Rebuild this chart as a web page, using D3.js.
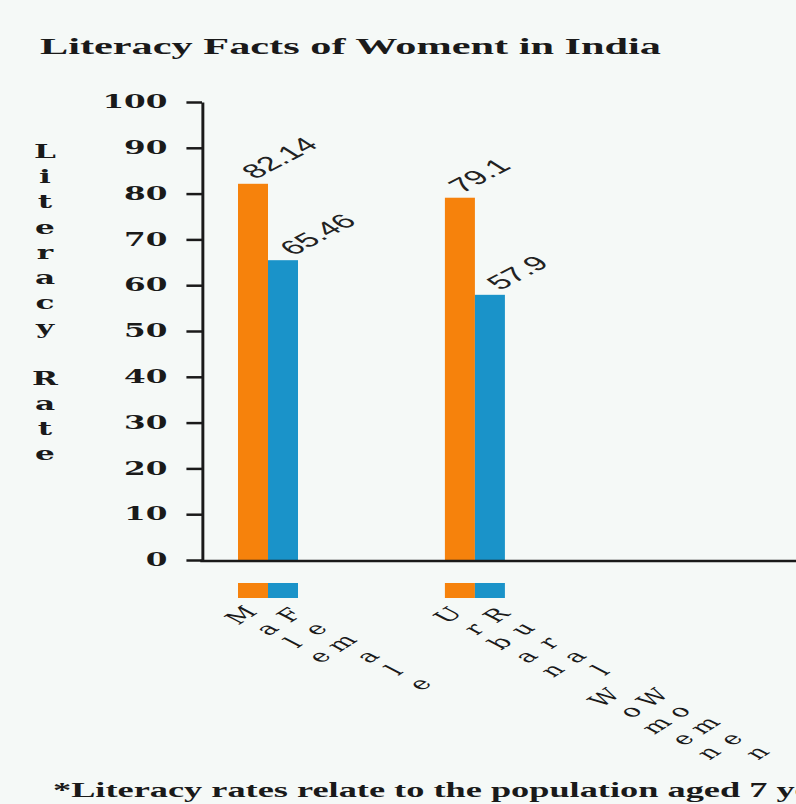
<!DOCTYPE html>
<html>
<head>
<meta charset="utf-8">
<script src="https://cdn.jsdelivr.net/npm/d3@7"></script>
<style>
  body { margin: 0; background: #f5f9f7; }
  svg { display: block; }
</style>
</head>
<body>
<div id="chart"></div>
<script>
// the reference picture is stretched sideways, so the chart is drawn narrow and scaled
const stretch = 1.73
const width = 796
const height = 804

const groups = ['Gender', 'Area']
const keys = ['first', 'second']
const barNames = [['Male', 'Female'], ['Urban Women', 'Rural Women']]
const barValues = [[82.14, 65.46], [79.1, 57.9]]
const valueLabels = [['82.14', '65.46'], ['79.1', '57.9']]
const colors = ['#f6820c', '#1a93c9']
const yTicks = [0, 10, 20, 30, 40, 50, 60, 70, 80, 90, 100]

const titleText = 'Literacy Facts of Woment in India'
const yTitle = 'Literacy Rate'
const note = '*Literacy rates relate to the population aged 7 years and above'

const axisX = 202 / stretch
const innerW = width / stretch

const canvas = d3
  .select('#chart')
  .append('svg')
  .attr('width', width)
  .attr('height', height)

canvas
  .append('rect')
  .attr('width', width)
  .attr('height', height)
  .attr('fill', '#f5f9f7')

const svg = canvas.append('g').attr('transform', `scale(${stretch},1)`)

const x0 = d3
  .scaleBand()
  .domain(groups)
  .range([axisX, axisX + 195.9])
  .paddingInner(0.71)
  .paddingOuter(0.174)

const x1 = d3
  .scaleBand()
  .domain(keys)
  .range([0, x0.bandwidth()])

// labels sit a little wider apart than the bars
const xValue = d3.scalePoint().domain(keys).range([10, 32])
const xName = d3.scalePoint().domain(keys).range([6, 34])

const y = d3
  .scaleLinear()
  .domain([0, 100])
  .range([560, 102])

const serif = 'DejaVu Serif'

// title
svg
  .append('text')
  .attr('x', 40 / stretch)
  .attr('y', 54)
  .attr('font-family', 'Liberation Serif')
  .attr('font-weight', 'bold')
  .attr('font-size', 24)
  .attr('textLength', 621 / stretch)
  .attr('lengthAdjust', 'spacingAndGlyphs')
  .attr('fill', '#1a1a1a')
  .text(titleText)

// y axis
const yAxis = svg
  .append('g')
  .attr('transform', `translate(${axisX},0)`)
  .call(
    d3
      .axisLeft(y)
      .tickValues(yTicks)
      .tickSize(9)
      .tickSizeOuter(0)
      .tickPadding(11)
  )

yAxis.select('.domain').attr('stroke', '#1a1a1a').attr('stroke-width', 1.7)
yAxis.selectAll('.tick line').attr('stroke', '#1a1a1a').attr('stroke-width', 2.5)
yAxis
  .selectAll('.tick text')
  .attr('font-family', serif)
  .attr('font-weight', 'bold')
  .attr('font-size', 18)
  .attr('fill', '#1a1a1a')

// y title, one letter per line
svg
  .append('g')
  .selectAll('text')
  .data(yTitle.split('').map((c, i) => ({ c, i })).filter(d => d.c !== ' '))
  .enter()
  .append('text')
  .attr('x', 26)
  .attr('y', d => 158 + d.i * 25.2)
  .attr('text-anchor', 'middle')
  .attr('font-family', serif)
  .attr('font-weight', 'bold')
  .attr('font-size', 18)
  .attr('fill', '#1a1a1a')
  .text(d => d.c)

// bars
const groupG = svg
  .selectAll('.group')
  .data(groups)
  .enter()
  .append('g')
  .attr('class', 'group')
  .attr('transform', d => `translate(${x0(d)},0)`)

const cells = (g, gi) =>
  keys.map((k, ki) => ({
    g,
    k,
    ki,
    value: barValues[gi][ki],
    label: valueLabels[gi][ki],
    name: barNames[gi][ki]
  }))

groupG
  .selectAll('rect.bar')
  .data((d, gi) => cells(d, gi))
  .enter()
  .append('rect')
  .attr('class', 'bar')
  .attr('x', d => x1(d.k))
  .attr('width', x1.bandwidth())
  .attr('y', d => y(d.value))
  .attr('height', d => y(0) - y(d.value))
  .attr('fill', d => colors[d.ki])

// value labels
groupG
  .selectAll('text.value')
  .data((d, gi) => cells(d, gi))
  .enter()
  .append('text')
  .attr('class', 'value')
  .attr('transform', d => `translate(${xValue(d.k)},${y(d.value) - 4}) rotate(-42)`)
  .attr('font-family', 'Liberation Sans')
  .attr('font-size', 20)
  .attr('fill', '#222')
  .text(d => d.label)

// x axis line
svg
  .append('line')
  .attr('x1', axisX - 1)
  .attr('x2', innerW)
  .attr('y1', y(0) + 1)
  .attr('y2', y(0) + 1)
  .attr('stroke', '#1a1a1a')
  .attr('stroke-width', 2.5)

// colour keys under the axis
groupG
  .selectAll('rect.key')
  .data((d, gi) => cells(d, gi))
  .enter()
  .append('rect')
  .attr('class', 'key')
  .attr('x', d => x1(d.k))
  .attr('width', x1.bandwidth())
  .attr('y', 583)
  .attr('height', 15)
  .attr('fill', d => colors[d.ki])

// names, one letter per line, turned
const names = groupG
  .selectAll('text.name')
  .data((d, gi) => cells(d, gi))
  .enter()
  .append('text')
  .attr('class', 'name')
  .attr('transform', d => `translate(${xName(d.k)},619) rotate(-47.6)`)
  .attr('text-anchor', 'middle')
  .attr('font-family', serif)
  .attr('font-size', 17)
  .attr('fill', '#1a1a1a')

names
  .selectAll('tspan')
  .data(d => d.name.split('').map((c, i) => ({ c, i })).filter(t => t.c !== ' '))
  .enter()
  .append('tspan')
  .attr('x', 0)
  .attr('y', t => t.i * 20.4)
  .text(t => t.c)

// footnote
svg
  .append('text')
  .attr('x', 53 / stretch)
  .attr('y', 797)
  .attr('font-family', 'Liberation Serif')
  .attr('font-weight', 'bold')
  .attr('font-size', 21)
  .attr('fill', '#1a1a1a')
  .text(note)
</script>
</body>
</html>
